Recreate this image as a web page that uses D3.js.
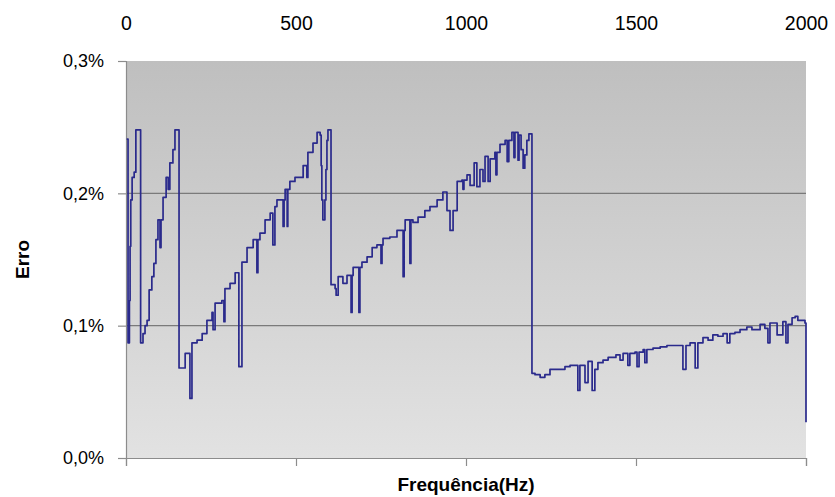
<!DOCTYPE html>
<html>
<head>
<meta charset="utf-8">
<script src="https://cdn.jsdelivr.net/npm/d3@7"></script>
<style>
    body { margin: 0; background: #fff; }
    svg { display: block; font-family: "Liberation Sans", Arial, sans-serif; }
</style>
</head>
<body>
<div id="chart"></div>
<script>
// Erro vs frequência - step line chart

// frequency (Hz) of each level change
const freq = [
    2, 6, 10, 12, 14, 18, 24, 29, 43,
    50, 56, 62, 68, 76, 82, 88, 94, 100, 103, 109, 118, 124, 129, 138, 144, 156,
    174, 188, 194, 209, 224, 238, 253, 256, 262, 282, 288, 291, 306, 321, 332, 341, 356, 374, 385, 388,
    394, 409, 424, 432, 438, 444, 462, 465, 468, 474, 476, 482, 497, 521, 532, 535, 550, 562, 571,
    574, 576, 579, 585, 588, 591, 594, 603,
    615, 618, 624, 638, 650, 662, 665, 668, 685, 688, 694, 709, 724, 738, 750, 753, 756, 776, 797,
    815, 818, 821, 835, 838, 844, 859, 879, 894, 915, 932, 944, 953, 962, 974, 988, 991, 994, 1003,
    1012, 1024, 1032, 1041, 1050, 1056, 1065, 1071, 1085, 1088, 1091, 1100, 1115, 1121, 1126, 1135,
    1141, 1144, 1153, 1156, 1162, 1168, 1173, 1179, 1185, 1194,
    1203, 1218, 1232, 1247, 1262, 1276, 1291, 1306, 1321, 1329, 1335, 1350, 1359, 1371, 1379, 1388,
    1403, 1418, 1441, 1453, 1462, 1474, 1476, 1482, 1497, 1503, 1509, 1521, 1526, 1532, 1550, 1571,
    1591, 1615, 1638, 1647, 1659, 1674, 1682, 1697, 1712, 1726, 1741, 1756, 1768, 1776, 1791, 1806,
    1826, 1841, 1865, 1879, 1888, 1894, 1915, 1932, 1941, 1947, 1959, 1968, 1976, 1988, 1997, 2000
];

// error (%) from that frequency on
const erro = [
    0.241, 0.087, 0.119, 0.160, 0.195, 0.212, 0.216, 0.248, 0.087,
    0.094, 0.100, 0.104, 0.127, 0.137, 0.147, 0.165, 0.180, 0.159, 0.180, 0.197, 0.212, 0.203, 0.223, 0.233, 0.248, 0.068,
    0.079, 0.045, 0.087, 0.089, 0.094, 0.104, 0.110, 0.097, 0.117, 0.119, 0.103, 0.128, 0.132, 0.140, 0.069, 0.148, 0.159, 0.165, 0.140, 0.165,
    0.170, 0.180, 0.185, 0.161, 0.190, 0.195, 0.175, 0.195, 0.203, 0.175, 0.203, 0.209, 0.212, 0.221, 0.212, 0.231, 0.238, 0.246, 0.244,
    0.221, 0.195, 0.180, 0.195, 0.218, 0.240, 0.248, 0.131,
    0.128, 0.123, 0.137, 0.132, 0.138, 0.110, 0.138, 0.144, 0.110, 0.144, 0.148, 0.152, 0.159, 0.161, 0.147, 0.161, 0.166, 0.167, 0.172,
    0.137, 0.172, 0.180, 0.147, 0.180, 0.178, 0.182, 0.187, 0.190, 0.195, 0.201, 0.187, 0.172, 0.187, 0.209, 0.210, 0.203, 0.210, 0.214,
    0.206, 0.223, 0.205, 0.218, 0.209, 0.228, 0.209, 0.226, 0.231, 0.214, 0.231, 0.237, 0.240, 0.224, 0.240, 0.246,
    0.227, 0.246, 0.225, 0.244, 0.233, 0.219, 0.229, 0.240, 0.245, 0.064,
    0.063, 0.061, 0.063, 0.067, 0.067, 0.067, 0.069, 0.070, 0.070, 0.051, 0.070, 0.057, 0.073, 0.051, 0.067, 0.072,
    0.074, 0.076, 0.078, 0.074, 0.079, 0.079, 0.070, 0.079, 0.080, 0.069, 0.080, 0.082, 0.072, 0.082, 0.083, 0.084,
    0.085, 0.085, 0.067, 0.085, 0.087, 0.068, 0.087, 0.091, 0.089, 0.093, 0.092, 0.094, 0.087, 0.094, 0.095, 0.097,
    0.099, 0.097, 0.101, 0.098, 0.087, 0.102, 0.093, 0.103, 0.087, 0.101, 0.106, 0.107, 0.104, 0.104, 0.102, 0.027
];

const xTicks = [0, 500, 1000, 1500, 2000];
const yTicks = [0, 0.1, 0.2, 0.3];

const width = 835;
const height = 497;
const margin = { top: 61, right: 29, bottom: 39, left: 126 };

const svg = d3.select("#chart")
    .append("svg")
    .attr("width", width)
    .attr("height", height);

const x = d3.scaleLinear()
    .domain([0, 2000])
    .range([margin.left, width - margin.right]);

const y = d3.scaleLinear()
    .domain([0, 0.3])
    .range([height - margin.bottom, margin.top]);

// plot background gradient
const grad = svg.append("defs").append("linearGradient")
    .attr("id", "bg")
    .attr("x1", 0).attr("y1", 0).attr("x2", 0).attr("y2", 1);
grad.append("stop").attr("offset", "0%").attr("stop-color", "#bfbfbf");
grad.append("stop").attr("offset", "100%").attr("stop-color", "#e2e2e2");

svg.append("rect")
    .attr("x", x(0))
    .attr("y", y(0.3))
    .attr("width", x(2000) - x(0))
    .attr("height", y(0) - y(0.3))
    .attr("fill", "url(#bg)");

// gridlines
svg.append("g")
    .selectAll("line")
    .data([0.1, 0.2])
    .join("line")
    .attr("x1", x(0))
    .attr("x2", x(2000))
    .attr("y1", d => y(d))
    .attr("y2", d => y(d))
    .attr("stroke", "#7a7a7a")
    .attr("stroke-width", 1.2);

// left axis
const yAxis = svg.append("g")
    .attr("transform", `translate(${x(0)},0)`)
    .call(d3.axisLeft(y)
        .tickValues(yTicks)
        .tickSize(8)
        .tickPadding(14)
        .tickFormat(d => d3.format(".1f")(d).replace(".", ",") + "%"));

// bottom axis (ticks only)
const xAxis = svg.append("g")
    .attr("transform", `translate(0,${y(0)})`)
    .call(d3.axisBottom(x)
        .tickValues(xTicks)
        .tickSize(8)
        .tickFormat(""));

// top labels
const topAxis = svg.append("g")
    .attr("transform", "translate(0,30)")
    .call(d3.axisTop(x)
        .tickValues(xTicks)
        .tickSize(0)
        .tickPadding(0)
        .tickFormat(d3.format("d")));
topAxis.select(".domain").remove();

[yAxis, xAxis].forEach(g => {
    g.select(".domain").attr("stroke", "#8c8c8c").attr("stroke-width", 1.2);
    g.selectAll(".tick line").attr("stroke", "#8c8c8c").attr("stroke-width", 1.2);
});

svg.selectAll(".tick text")
    .attr("font-size", 18)
    .attr("fill", "#000")
    .attr("font-family", "Liberation Sans, Arial, sans-serif");
topAxis.selectAll(".tick text").attr("font-size", 19.5);

// the error line
const line = d3.line()
    .x((d, i) => x(freq[i]))
    .y(d => y(d))
    .curve(d3.curveStepAfter);

svg.append("path")
    .datum(erro)
    .attr("fill", "none")
    .attr("stroke", "#2a2a8c")
    .attr("stroke-width", 1.7)
    .attr("stroke-linejoin", "round")
    .attr("d", line);

// axis titles
svg.append("text")
    .attr("x", (x(0) + x(2000)) / 2)
    .attr("y", 491)
    .attr("text-anchor", "middle")
    .attr("font-size", 19)
    .attr("font-weight", "bold")
    .text("Frequência(Hz)");

svg.append("text")
    .attr("transform", `translate(29,${(y(0) + y(0.3)) / 2}) rotate(-90)`)
    .attr("text-anchor", "middle")
    .attr("font-size", 19)
    .attr("font-weight", "bold")
    .text("Erro");
</script>
</body>
</html>
